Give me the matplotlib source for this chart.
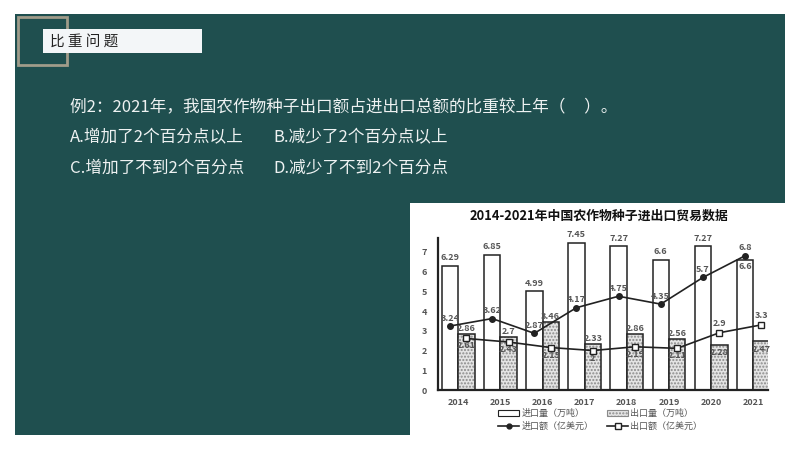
import matplotlib
matplotlib.use('Agg')
import matplotlib.pyplot as plt
from matplotlib.patches import Rectangle
from matplotlib.lines import Line2D
import numpy as np

plt.rcParams['font.family'] = ['Noto Sans CJK SC', 'DejaVu Sans']

years = ['2014', '2015', '2016', '2017', '2018', '2019', '2020', '2021']
import_volume = [6.29, 6.85, 4.99, 7.45, 7.27, 6.6, 7.27, 6.6]
export_volume = [2.86, 2.7, 3.46, 2.33, 2.86, 2.56, 2.28, 2.47]
import_value = [3.24, 3.62, 2.87, 4.17, 4.75, 4.35, 5.7, 6.8]
export_value = [2.61, 2.43, 2.15, 2, 2.19, 2.11, 2.9, 3.3]

question = '例2：2021年，我国农作物种子出口额占进出口总额的比重较上年（     ）。'
options = ['A.增加了2个百分点以上', 'B.减少了2个百分点以上',
           'C.增加了不到2个百分点', 'D.减少了不到2个百分点']

GREEN = '#1f4f4f'
TXT = '#eef2f2'
GREY = '#555555'

fig = plt.figure(figsize=(8, 4.5), dpi=100)
fig.patch.set_facecolor('white')

# slide background, pixel coords
bg = fig.add_axes([0, 0, 1, 1])
bg.set_xlim(0, 800)
bg.set_ylim(450, 0)
bg.axis('off')
bg.add_patch(Rectangle((15, 14), 770, 421, facecolor=GREEN, edgecolor='none'))
bg.add_patch(Rectangle((18, 17), 49, 48, facecolor='none', edgecolor='#a09c8a', lw=2))
bg.add_patch(Rectangle((43, 29), 159, 24, facecolor='#f3f6f8', edgecolor='none'))
bg.text(50, 41.5, '比 重 问 题', fontsize=10.5, color='#222222', va='center', ha='left')

bg.text(70, 108, question, fontsize=12, color=TXT, va='center', ha='left')
bg.text(70, 138, options[0], fontsize=12, color=TXT, va='center', ha='left')
bg.text(273, 138, options[1], fontsize=12, color=TXT, va='center', ha='left')
bg.text(70, 168, options[2], fontsize=12, color=TXT, va='center', ha='left')
bg.text(273, 168, options[3], fontsize=12, color=TXT, va='center', ha='left')

# chart picture area
bg.add_patch(Rectangle((410, 203), 380, 232, facecolor='white', edgecolor='none'))
bg.text(599, 216, '2014-2021年中国农作物种子进出口贸易数据', fontsize=9.3,
        fontweight='bold', color='#111111', ha='center', va='center')

ax = fig.add_axes([438 / 800, 60 / 450, 330 / 800, 152 / 450])
ax.set_facecolor('white')
x = np.arange(len(years))
w = 0.39
ax.bar(x - w / 2, import_volume, w, facecolor='white', edgecolor='#222222', lw=1.1, zorder=2)
ax.bar(x + w / 2, export_volume, w, facecolor='#e4e4e4', edgecolor='#8a8a8a', hatch='.....',
       lw=0, zorder=2)
ax.bar(x + w / 2, export_volume, w, fill=False, edgecolor='#222222', lw=1.1, zorder=3)

ax.plot(x - w / 2, import_value, color='#222222', lw=1.2, marker='o', ms=4, zorder=4)
ax.plot(x + w / 2, export_value, color='#222222', lw=1.2, marker='s', ms=5,
        mfc='white', mec='#222222', zorder=4)

lab = dict(fontsize=6.5, fontweight='bold', color=GREY, ha='center', va='center', zorder=5)
for i in range(len(years)):
    dy = 0.42 if i < 7 else -0.36
    ax.text(x[i] - w / 2, import_volume[i] + dy, str(import_volume[i]), **lab)
    dy = 0.28 if i < 6 else -0.4
    ax.text(x[i] + w / 2, export_volume[i] + dy, str(export_volume[i]), **lab)
    ax.text(x[i] - w / 2, import_value[i] + 0.4, str(import_value[i]), **lab)
    dy = -0.38 if i < 6 else 0.45
    ax.text(x[i] + w / 2, export_value[i] + dy, str(export_value[i]), **lab)

ax.set_xlim(-0.48, 7.35)
ax.set_ylim(0, 7.7)
ax.set_yticks(range(8))
ax.set_xticks(x)
ax.set_xticklabels(years)
ax.tick_params(length=0, labelsize=6.5, labelcolor=GREY)
ax.tick_params(axis='x', pad=6)
ax.tick_params(axis='y', pad=8)
for t in ax.get_xticklabels() + ax.get_yticklabels():
    t.set_fontweight('bold')
for s in ['top', 'right']:
    ax.spines[s].set_visible(False)
for s in ['left', 'bottom']:
    ax.spines[s].set_linewidth(1.6)
    ax.spines[s].set_color('#222222')

handles = [
    Rectangle((0, 0), 1, 1, facecolor='white', edgecolor='#222222', lw=0.8),
    Line2D([], [], color='#222222', lw=1.2, marker='o', ms=3.5),
    Rectangle((0, 0), 1, 1, facecolor='#e4e4e4', edgecolor='#8a8a8a', hatch='.....', lw=0.8),
    Line2D([], [], color='#222222', lw=1.2, marker='s', ms=4, mfc='white'),
]
names = ['进口量（万吨）', '进口额（亿美元）', '出口量（万吨）', '出口额（亿美元）']
leg = fig.legend(handles, names, ncol=2, loc='center', bbox_to_anchor=(600 / 800, 1 - 420 / 450),
                 frameon=False, fontsize=6.5, handlelength=2.4, handleheight=0.7,
                 columnspacing=1.5, labelspacing=0.45, handletextpad=0.2)
for t in leg.get_texts():
    t.set_color(GREY)

fig.savefig('out.png', dpi=100, facecolor=fig.get_facecolor())
